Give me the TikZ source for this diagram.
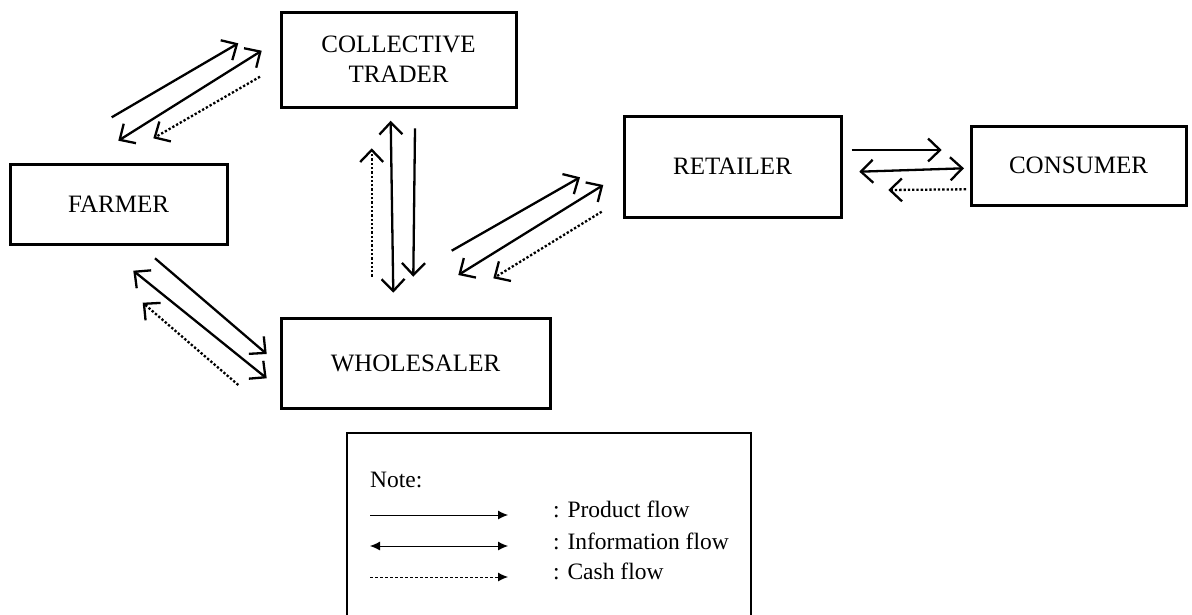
\documentclass[tikz,border=0pt]{standalone}
\usepackage{fontspec}
\setmainfont{Liberation Serif}
\usetikzlibrary{arrows.meta}
\tikzset{
  box/.style={draw, line width=3pt, inner sep=0pt, align=center,
    font=\fontsize{25}{30}\selectfont},
  barb/.tip={Straight Barb[length=12pt,width=23pt]},
  flowone/.style={line width=2.3pt, -barb},
  flowtwo/.style={line width=2.3pt, barb-barb},
  flowcash/.style={line width=2.3pt, -barb, dotted},
  legtxt/.style={anchor=base west, inner sep=0pt, font=\fontsize{23.5}{26}\selectfont},
  legtip/.tip={Latex[length=10pt,width=9pt]},
  legone/.style={line width=0.9pt, -legtip},
  legtwo/.style={line width=0.9pt, legtip-legtip},
  legcash/.style={line width=0.9pt, -legtip, dash pattern=on 3pt off 2pt}
}
\begin{document}
\begin{tikzpicture}[x=1pt,y=-1pt]
\useasboundingbox[fill=white] (0,0) rectangle (1192,614);

% boxes
\node[box, minimum width=235pt, minimum height=95pt] (collective) at (398.5,59.5) {COLLECTIVE\\TRADER};
\node[box, minimum width=217pt, minimum height=80pt] (farmer) at (118.5,204.5) {FARMER};
\node[box, minimum width=269pt, minimum height=90pt] (wholesaler) at (415.5,363) {WHOLESALER};
\node[box, minimum width=217pt, minimum height=101pt] (retailer) at (732.5,166.5) {RETAILER};
\node[box, minimum width=215pt, minimum height=79pt] (consumer) at (1078.5,165.5) {CONSUMER};

% arrow end points
% farmer <-> collective trader
\coordinate (fcps) at (111.7,117.3); \coordinate (fcpe) at (238.3,43.3);
\coordinate (fcis) at (118.3,140.7); \coordinate (fcie) at (261.7,50.7);
\coordinate (fccs) at (260,76.7);    \coordinate (fcce) at (153.3,138.3);
% collective trader <-> wholesaler
\coordinate (cwcs) at (371.7,276.7); \coordinate (cwce) at (371.7,148.3);
\coordinate (cwis) at (390.7,120.7); \coordinate (cwie) at (393.3,292.7);
\coordinate (cwps) at (415,128.3);   \coordinate (cwpe) at (413.3,276.7);
% farmer <-> wholesaler
\coordinate (fwps) at (155,258.3);   \coordinate (fwpe) at (266.7,354);
\coordinate (fwis) at (133.3,270.7); \coordinate (fwie) at (266.7,378.3);
\coordinate (fwcs) at (238.3,385);   \coordinate (fwce) at (142.7,302.7);
% wholesaler <-> retailer
\coordinate (wrps) at (451.7,250.7); \coordinate (wrpe) at (580,177.3);
\coordinate (wris) at (458.3,275);   \coordinate (wrie) at (603.3,185);
\coordinate (wrcs) at (601.7,211.7); \coordinate (wrce) at (493.3,278.3);
% retailer <-> consumer
\coordinate (rcps) at (851.7,150);   \coordinate (rcpe) at (941.7,150);
\coordinate (rcis) at (859.3,171.7); \coordinate (rcie) at (964,168.3);
\coordinate (rccs) at (966,189.3);   \coordinate (rcce) at (888.3,190);

\draw[flowone]  (fcps) -- (fcpe);
\draw[flowtwo]  (fcis) -- (fcie);
\draw[flowcash] (fccs) -- (fcce);

\draw[flowcash] (cwcs) -- (cwce);
\draw[flowtwo]  (cwis) -- (cwie);
\draw[flowone]  (cwps) -- (cwpe);

\draw[flowone]  (fwps) -- (fwpe);
\draw[flowtwo]  (fwis) -- (fwie);
\draw[flowcash] (fwcs) -- (fwce);

\draw[flowone]  (wrps) -- (wrpe);
\draw[flowtwo]  (wris) -- (wrie);
\draw[flowcash] (wrcs) -- (wrce);

\draw[flowone]  (rcps) -- (rcpe);
\draw[flowtwo]  (rcis) -- (rcie);
\draw[flowcash] (rccs) -- (rcce);

% legend
\node[draw, line width=1.5pt, inner sep=0pt, minimum width=404pt, minimum height=200pt, anchor=north west] (legend) at (346,432) {};
\node[legtxt] (note) at (370,487) {Note:};
\coordinate (lps) at (370,515); \coordinate (lpe) at (508,515);
\coordinate (lis) at (370,546); \coordinate (lie) at (508,546);
\coordinate (lcs) at (370,577); \coordinate (lce) at (508,577);
\draw[legone]  (lps) -- (lpe);
\draw[legtwo]  (lis) -- (lie);
\draw[legcash] (lcs) -- (lce);
\node[legtxt] (lp) at (553,517) {: Product flow};
\node[legtxt] (li) at (553,549) {: Information flow};
\node[legtxt] (lc) at (553,579) {: Cash flow};
\end{tikzpicture}
\end{document}
